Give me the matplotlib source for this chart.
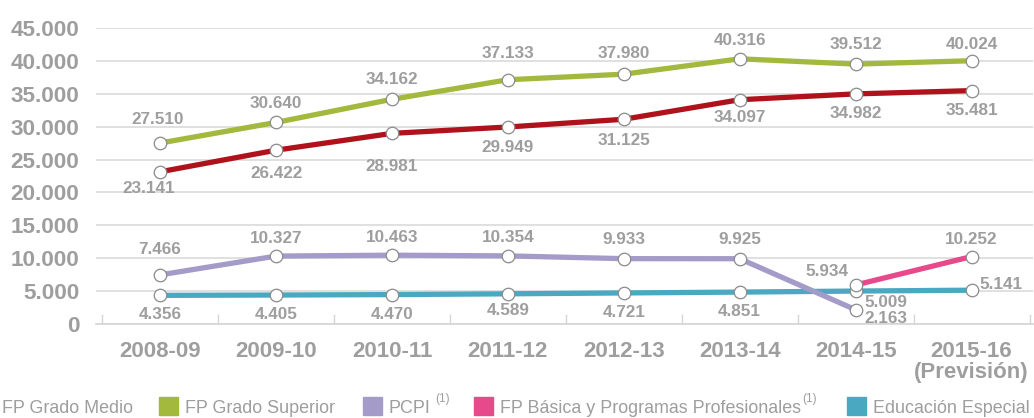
import numpy as np
import matplotlib
matplotlib.use("Agg")
import matplotlib.pyplot as plt
from matplotlib.patches import Rectangle
from matplotlib.ticker import FuncFormatter, FixedLocator

plt.rcParams['font.family'] = ['Liberation Sans', 'DejaVu Sans']

# data
courses = ["2008-09", "2009-10", "2010-11", "2011-12", "2012-13",
           "2013-14", "2014-15", "2015-16\n(Previsión)"]
grado_medio = [23141, 26422, 28981, 29949, 31125, 34097, 34982, 35481]
grado_superior = [27510, 30640, 34162, 37133, 37980, 40316, 39512, 40024]
pcpi = [7466, 10327, 10463, 10354, 9933, 9925, 2163, np.nan]
fp_basica = [np.nan, np.nan, np.nan, np.nan, np.nan, np.nan, 5934, 10252]
ed_especial = [4356, 4405, 4470, 4589, 4721, 4851, 5009, 5141]

GREY = "#9e9e9e"
C_MEDIO = "#b0121c"
C_SUP = "#a3b93e"
C_PCPI = "#a59bc9"
C_BAS = "#e64a8b"
C_ESP = "#4aa9c1"

fig = plt.figure(figsize=(10.34, 4.18), dpi=100)
ax = fig.add_axes([96 / 1034, 1 - 324 / 418, 937 / 1034, 296 / 418])

x = np.arange(len(courses))


def fmt(v):
    return f"{int(v):,}".replace(",", ".")


def series(vals, color, offsets, z=3):
    vals = np.array(vals, dtype=float)
    ax.plot(x, vals, color=color, lw=3.8, zorder=z, solid_capstyle="butt")
    ax.plot(x, vals, ls="none", marker="o", ms=9, mfc="white",
            mec="#8a8a8a", mew=0.9, zorder=z + 5)
    for i, v in enumerate(vals):
        if np.isnan(v):
            continue
        dx, dy, ha = offsets[i]
        ax.annotate(fmt(v), (x[i], v), xytext=(dx, dy),
                    textcoords="offset points", ha=ha, va="center",
                    fontsize=12.3, fontweight="bold", color=GREY, zorder=20)


series(grado_superior, C_SUP,
       [(-2, 17, "center"), (0, 14, "center"), (0, 14, "center"), (0, 19, "center"),
        (0, 15, "center"), (0, 13, "center"), (0, 14, "center"), (0, 12, "center")])
series(grado_medio, C_MEDIO,
       [(-8, -12, "center"), (0, -17, "center"), (0, -24, "center"), (0, -15, "center"),
        (0, -15, "center"), (0, -13, "center"), (0, -14, "center"), (0, -14, "center")])
series(pcpi, C_PCPI,
       [(0, 18, "center"), (0, 13, "center"), (0, 13, "center"), (0, 13, "center"),
        (0, 14, "center"), (0, 14, "center"), (6, -6, "left"), (0, 0, "center")])
series(ed_especial, C_ESP,
       [(0, -14, "center"), (0, -14, "center"), (0, -14, "center"), (0, -12, "center"),
        (0, -14, "center"), (0, -14, "center"), (6, -8, "left"), (6, 4, "left")], z=2)
series(fp_basica, C_BAS,
       [(0, 0, "center")] * 6 + [(-5, 10, "right"), (0, 12, "center")], z=4)

ax.set_xlim(-0.553, 7.53)
ax.set_ylim(0, 45000)
ax.set_yticks(np.arange(0, 45001, 5000))
ax.yaxis.set_major_formatter(FuncFormatter(lambda v, p: fmt(v)))
ax.set_xticks(x)
ax.set_xticklabels(courses, linespacing=1.05)
ax.xaxis.set_minor_locator(FixedLocator(np.arange(-0.5, 8.0, 1.0)))

ax.grid(axis="y", color="#dadada", lw=1.2, zorder=0)
ax.set_axisbelow(True)
for s in ["top", "right", "left"]:
    ax.spines[s].set_visible(False)
ax.spines["bottom"].set_color("#d6d6d6")
ax.spines["bottom"].set_linewidth(1.2)

ax.tick_params(axis="y", length=0, pad=12, labelsize=16.2, labelcolor=GREY)
ax.tick_params(axis="x", which="major", length=0, pad=12, labelsize=16,
               labelcolor=GREY)
ax.tick_params(axis="x", which="minor", direction="in", length=7,
               color="#d6d6d6", width=1.0)
for t in ax.get_yticklabels() + ax.get_xticklabels():
    t.set_fontweight("bold")

# legend along the bottom
legend_items = [
    (None, 2, "FP Grado Medio", False),
    (C_SUP, 185, "FP Grado Superior", False),
    (C_PCPI, 389, "PCPI", True),
    (C_BAS, 500, "FP Básica y Programas Profesionales", True),
    (C_ESP, 873, "Educación Especial", False),
]
W, H = 1034, 418
fig.canvas.draw()
renderer = fig.canvas.get_renderer()
for color, tx, label, sup in legend_items:
    if color is not None:
        fig.patches.append(Rectangle(((tx - 26) / W, 1 - 415 / H), 19 / W, 18 / H,
                                     transform=fig.transFigure, color=color))
    t = fig.text(tx / W, 1 - 413 / H, label, fontsize=12.9, color=GREY,
                 va="baseline", ha="left")
    if sup:
        bb = t.get_window_extent(renderer)
        gap = 5 if label == "PCPI" else 1
        fig.text((bb.x1 + gap) / W, 1 - 402 / H, "(1)", fontsize=8.5,
                 color=GREY, va="baseline", ha="left")

fig.savefig("out.png", dpi=100)
